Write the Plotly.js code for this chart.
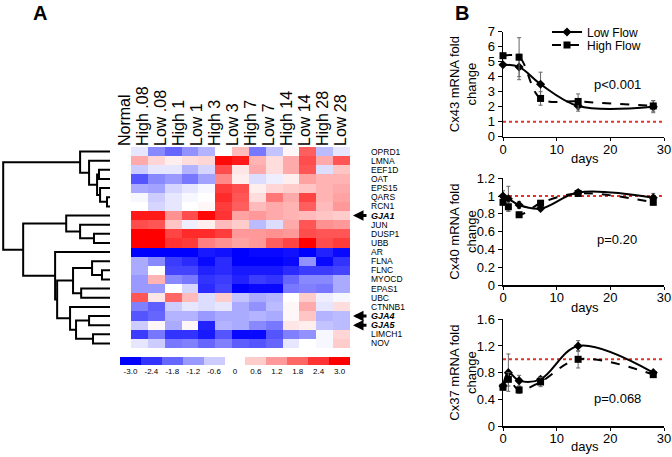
<!DOCTYPE html>
<html><head><meta charset="utf-8">
<script src="https://cdn.plot.ly/plotly-3.0.1.min.js"></script>
<style>html,body{margin:0;padding:0;background:#fff}#chart{width:672px;height:457px}</style>
</head><body><div id="chart"></div>
<script>
// ---------- Panel A data ----------
const columns = ['Normal','High .08','Low .08','High 1','Low 1','High 3','Low 3','High 7','Low 7','High 14','Low 14','High 28','Low 28'];
const genes = ['OPRD1','LMNA','EEF1D','OAT','EPS15','QARS','RCN1','GJA1','JUN','DUSP1','UBB','AR','FLNA','FLNC','MYOCD','EPAS1','UBC','CTNNB1','GJA4','GJA5','LIMCH1','NOV'];
const highlighted = ['GJA1','GJA4','GJA5'];
const foldZ = [
  [-0.3,-1.4,-1.8,-1.3,-0.9, 0.0, 0.8,-1.6,-0.7, 0.1, 1.9,-0.8,-0.3],
  [ 1.0, 0.5, 0.2, 0.4, 0.5, 2.9, 2.7, 0.9, 0.4, 1.0, 2.1, 1.0, 2.0],
  [-0.6,-0.3,-0.3,-0.9,-0.5, 2.1, 0.3, 1.0, 0.4, 1.0, 2.0,-0.4, 0.7],
  [-2.0,-1.4,-1.2,-1.6,-1.1, 1.4, 0.2,-0.4,-0.2, 0.2, 1.1, 0.9, 0.9],
  [-1.0,-1.1,-0.5,-0.3,-0.1, 2.3, 2.1, 0.2, 0.5, 0.6, 0.7, 0.9, 1.0],
  [-0.1,-0.6,-0.3,-0.1, 0.0, 2.5, 2.0, 0.4, 1.6, 1.0, 2.2, 0.9, 1.1],
  [ 0.0,-0.5,-0.3, 0.0, 0.1, 2.3, 1.9, 0.8, 1.0, 0.9, 1.9, 0.8, 1.2],
  [ 2.7, 2.7, 1.3, 2.1, 2.9, 2.4, 1.1, 1.2, 1.0, 0.9, 0.8, 0.7, 0.6],
  [ 2.1, 2.0, 0.7,-0.2, 0.2, 0.8, 0.6,-0.8,-0.4, 1.0, 2.0, 1.3, 1.2],
  [ 3.0, 3.0, 2.2, 2.5, 2.5, 2.3, 1.2, 1.2, 1.3, 1.2, 2.1, 2.0, 2.0],
  [ 3.0, 3.0, 2.4, 2.3, 1.5, 1.3, 1.1, 1.2, 1.9, 2.2, 3.0, 2.1, 2.3],
  [-3.0,-3.0,-3.0,-3.0,-2.7,-2.8,-3.0,-2.9,-2.9,-2.8,-3.0,-2.6,-2.9],
  [-1.0,-1.4,-2.3,-2.5,-2.9,-2.5,-3.0,-3.0,-3.0,-2.9,-1.3,-2.9,-2.4],
  [-1.0, 0.0,-2.2,-2.2,-2.6,-2.5,-2.7,-2.7,-2.7,-2.5,-2.3,-2.3,-2.2],
  [-1.2, 0.9,-1.4,-1.6,-2.4,-2.3,-2.6,-2.3,-2.4,-1.8,-1.4,-1.4,-1.0],
  [-1.2,-1.2, 0.0,-0.5,-2.5,-2.2,-3.0,-2.9,-2.9,-1.6,-1.5,-1.6,-1.0],
  [ 2.0, 0.3, 1.8, 0.8,-0.4, 0.6,-0.7,-1.0,-0.9, 0.0, 0.6,-0.2,-0.1],
  [-1.5,-1.9,-0.6,-0.3,-0.4,-0.3,-1.0,-1.3,-0.8, 0.1, 1.0,-0.3, 0.4],
  [-2.0,-1.8,-0.9,-0.9,-1.2,-1.0,-1.0,-0.9,-1.0, 0.1, 0.7,-0.9,-0.8],
  [-0.6, 0.1,-1.0, 0.1,-2.6,-0.9,-1.0,-1.4,-1.6, 0.3, 0.2,-0.7,-0.8],
  [-2.3,-1.6,-2.4,-2.4,-2.7,-2.0,-2.9,-2.9,-2.0,-1.5,-1.3,-0.1, 0.5],
  [-0.3,-0.6,-1.6,-1.5,-1.8,-1.5,-1.9,-2.0,-1.8,-0.3, 0.0,-0.1, 0.6]
];
const scaleTicks = [-3.0,-2.4,-1.8,-1.2,-0.6,0,0.6,1.2,1.8,2.4,3.0];
const scaleLabels = ['-3.0','-2.4','-1.8','-1.2','-0.6','0','0.6','1.2','1.8','2.4','3.0'];
// hierarchical clustering: node ids 0..21 leaves, 22+ merges
const linkLeft   = [2, 5, 4, 22, 1, 0, 9, 8, 7, 13, 12, 15, 32, 18, 20, 35, 17, 34, 11, 30, 27];
const linkRight  = [3, 6, 23, 24, 25, 26, 10, 28, 29, 14, 31, 16, 33, 19, 21, 36, 37, 38, 39, 40, 41];
const linkHeight = [0.103,0.028,0.093,0.121,0.196,0.28,0.15,0.28,0.41,0.075,0.168,0.27,0.346,0.196,0.159,0.318,0.374,0.495,0.514,0.813,1.0];

// ---------- Panel B data ----------
const days43 = [0, 3, 7, 14, 28];
const cx43Low = [4.8, 4.65, 3.5, 2.05, 2.0];
const cx43LowErr = [0.05, 0.85, 0.8, 0.35, 0.4];
const cx43High = [5.4, 5.3, 2.55, 2.35, 2.05];
const cx43HighErr = [0.05, 1.3, 0.45, 0.5, 0.35];
const days = [0, 1, 3, 7, 14, 28];
const cx40Low = [1.0, 0.97, 0.9, 0.86, 1.04, 0.98];
const cx40LowErr = [0.06, 0.14, 0.04, 0.02, 0.03, 0.05];
const cx40High = [0.93, 0.88, 0.79, 0.92, 1.03, 0.93];
const cx40HighErr = [0.03, 0.05, 0.03, 0.02, 0.03, 0.03];
const cx37Low = [0.6, 0.8, 0.68, 0.7, 1.2, 0.8];
const cx37LowErr = [0.05, 0.28, 0.08, 0.04, 0.08, 0.03];
const cx37High = [0.58, 0.7, 0.54, 0.66, 1.0, 0.77];
const cx37HighErr = [0.04, 0.1, 0.05, 0.07, 0.13, 0.03];
const refLevel = 1;
const pTexts = ['p&lt;0.001', 'p=0.20', 'p=0.068'];
const yTitles = ['Cx43 mRNA fold<br>change', 'Cx40 mRNA fold<br>change', 'Cx37 mRNA fold<br>change'];

// ---------- helpers ----------
const W = 672, H = 457;
const px = v => v / W;
const py = v => 1 - v / H;
const FONT = 'Arial, "Liberation Sans", sans-serif';

// dendrogram segments
const nodeY = genes.map((g, i) => i);
const nodeH = genes.map(() => 0);
const dx = [], dy = [];
linkLeft.forEach((l, k) => {
  const r = linkRight[k], h = linkHeight[k];
  dx.push(nodeH[l], h, h, nodeH[r], null);
  dy.push(nodeY[l], nodeY[l], nodeY[r], nodeY[r], null);
  nodeY.push((nodeY[l] + nodeY[r]) / 2);
  nodeH.push(h);
});

// heatmap geometry (pixels) and column-label placement
const heatLeft = 131, heatRight = 350, heatTop = 147, heatBot = 348;
const cellW = (heatRight - heatLeft) / columns.length;
const labelStart = 125, labelPitch = 18;
const labelPos = columns.map((c, i) => (labelStart + labelPitch * i - heatLeft) / cellW - 0.5);

const colorscale = [[0,'#0000ff'],[0.5,'#ffffff'],[1,'#ff0000']];
const traces = [];
traces.push({type:'heatmap', z: foldZ, x: columns.map((c,i)=>i), y: genes.map((g,i)=>i),
  colorscale, zmin:-3, zmax:3, showscale:false, xaxis:'x', yaxis:'y', hoverinfo:'skip'});
traces.push({type:'heatmap', z:[scaleTicks], x: scaleTicks.map((t,i)=>i), y:[0],
  colorscale, zmin:-3, zmax:3, showscale:false, xaxis:'x2', yaxis:'y2', hoverinfo:'skip'});
traces.push({type:'scatter', mode:'lines', x: dx, y: dy, xaxis:'x3', yaxis:'y3',
  line:{color:'#000', width:2}, showlegend:false, hoverinfo:'skip', connectgaps:false});

function series(xv, yv, err, name, dash, symbol, ax, legend, legendId) {
  const t = {type:'scatter', mode:'lines+markers', x:xv, y:yv, name,
    xaxis:'x'+ax, yaxis:'y'+ax, showlegend:legend, cliponaxis:false,
    line:{color:'#000', width:2, dash, shape:'spline', smoothing:1},
    marker:{symbol, size:7, color:'#000'},
    error_y:{type:'data', array:err, visible:true, color:'#666', thickness:1, width:2}};
  if (legendId) t.legend = legendId;
  return t;
}
traces.push(series(days43, cx43Low, cx43LowErr, 'Low Flow', 'solid', 'diamond', 4, true, 'legend'));
traces.push(series(days43, cx43High, cx43HighErr, 'High Flow', 'dash', 'square', 4, true, 'legend2'));
traces.push(series(days, cx40Low, cx40LowErr, 'Low Flow', 'solid', 'diamond', 5, false));
traces.push(series(days, cx40High, cx40HighErr, 'High Flow', 'dash', 'square', 5, false));
traces.push(series(days, cx37Low, cx37LowErr, 'Low Flow', 'solid', 'diamond', 6, false));
traces.push(series(days, cx37High, cx37HighErr, 'High Flow', 'dash', 'square', 6, false));

const legendBase = {xanchor:'left', yanchor:'top', font:{size:12, family:FONT},
  bgcolor:'rgba(0,0,0,0)', tracegroupgap:0, itemwidth:30};
const layout = {
  width: W, height: H, margin:{l:0,r:0,t:0,b:0}, paper_bgcolor:'#fff', plot_bgcolor:'rgba(0,0,0,0)',
  font:{family:FONT, color:'#000'},
  showlegend:true,
  legend: Object.assign({x:px(547), y:py(17.5)}, legendBase),
  legend2: Object.assign({x:px(547), y:py(30.5)}, legendBase),
  xaxis:{domain:[px(heatLeft - cellW), px(heatRight)], anchor:'y', side:'top', range:[-1.5,12.5],
    tickvals: labelPos, ticktext: columns, tickangle:-90,
    tickfont:{size:16, family:FONT}, ticks:'', showline:false, showgrid:false, zeroline:false},
  yaxis:{domain:[py(heatBot), py(heatTop)], anchor:'x', range:[genes.length-0.5,-0.5],
    showticklabels:false, ticks:'', showgrid:false, zeroline:false, showline:false},
  xaxis2:{domain:[px(120), px(350)], anchor:'y2', range:[-0.5,10.5],
    tickvals: scaleTicks.map((t,i)=>i), ticktext: scaleLabels, tickfont:{size:8, family:FONT},
    ticks:'', showgrid:false, zeroline:false, showline:false},
  yaxis2:{domain:[py(365), py(357)], anchor:'x2', range:[-0.5,0.5], showticklabels:false,
    ticks:'', showgrid:false, zeroline:false},
  xaxis3:{domain:[0, px(110)], anchor:'y3', range:[1.03, 0], visible:false},
  yaxis3:{domain:[py(heatBot), py(heatTop)], anchor:'x3', range:[genes.length-0.5,-0.5], visible:false},
  annotations:[], shapes:[]
};

const panels = [
  {ax:4, top:31.7, bot:136.7, ymax:7, dtick:1, pY:85, tY:158},
  {ax:5, top:178.3, bot:285, ymax:1.2, dtick:0.2, pY:240, tY:307},
  {ax:6, top:319.3, bot:426, ymax:1.6, dtick:0.4, pY:398, tY:446}
];
panels.forEach((p, i) => {
  layout['xaxis'+p.ax] = {domain:[px(503), px(664)], anchor:'y'+p.ax, range:[0,30], dtick:10,
    showline:true, linecolor:'#000', linewidth:1.5, ticks:'outside', ticklen:3, tickcolor:'#000',
    tickfont:{size:13, family:FONT}, showgrid:false, zeroline:false, ticklabeloverflow:'allow',
    ticklabelstandoff:-3};
  layout['yaxis'+p.ax] = {domain:[py(p.bot), py(p.top)], anchor:'x'+p.ax, range:[0,p.ymax], dtick:p.dtick,
    showline:true, linecolor:'#000', linewidth:1.5, ticks:'outside', ticklen:4, tickcolor:'#000',
    tickfont:{size:13, family:FONT}, showgrid:false, zeroline:false};
  layout.shapes.push({type:'line', xref:'x'+p.ax+' domain', x0:0, x1:1, yref:'y'+p.ax, y0:refLevel, y1:refLevel,
    line:{color:'#e8302a', width:2, dash:'dot'}, layer:'below'});
  layout.annotations.push({xref:'paper', yref:'paper', x:px(617), y:py(p.pY), xanchor:'center', yanchor:'middle',
    text:pTexts[i], showarrow:false, font:{size:13, family:FONT}});
  layout.annotations.push({xref:'paper', yref:'paper', x:px(585), y:py(p.tY), xanchor:'center', yanchor:'middle',
    text:'days', showarrow:false, font:{size:13, family:FONT}});
  layout.annotations.push({xref:'paper', yref:'paper', x:px(463), y:py((p.top+p.bot)/2), xanchor:'center', yanchor:'middle',
    text:yTitles[i], textangle:-90, showarrow:false, font:{size:13, family:FONT}});
});

// gene labels and arrows
genes.forEach((g, i) => {
  const hl = highlighted.includes(g);
  layout.annotations.push({xref:'paper', yref:'y', x:px(369), y:i, xanchor:'left', yanchor:'middle',
    text: hl ? '<b><i>'+g+'</i></b>' : g, showarrow:false, font:{size: hl?9:8.5, family:FONT}});
  if (hl) layout.annotations.push({xref:'paper', yref:'y', x:px(353), y:i, ax:15, ay:0, text:'',
    showarrow:true, arrowhead:2, arrowsize:0.7, arrowwidth:3, arrowcolor:'#000'});
});
layout.annotations.push({xref:'paper', yref:'paper', x:px(40), y:py(13), xanchor:'center', yanchor:'middle',
  text:'<b>A</b>', showarrow:false, font:{size:20, family:FONT}});
layout.annotations.push({xref:'paper', yref:'paper', x:px(462), y:py(13), xanchor:'center', yanchor:'middle',
  text:'<b>B</b>', showarrow:false, font:{size:20, family:FONT}});

Plotly.newPlot('chart', traces, layout, {staticPlot:true});
</script></body></html>
